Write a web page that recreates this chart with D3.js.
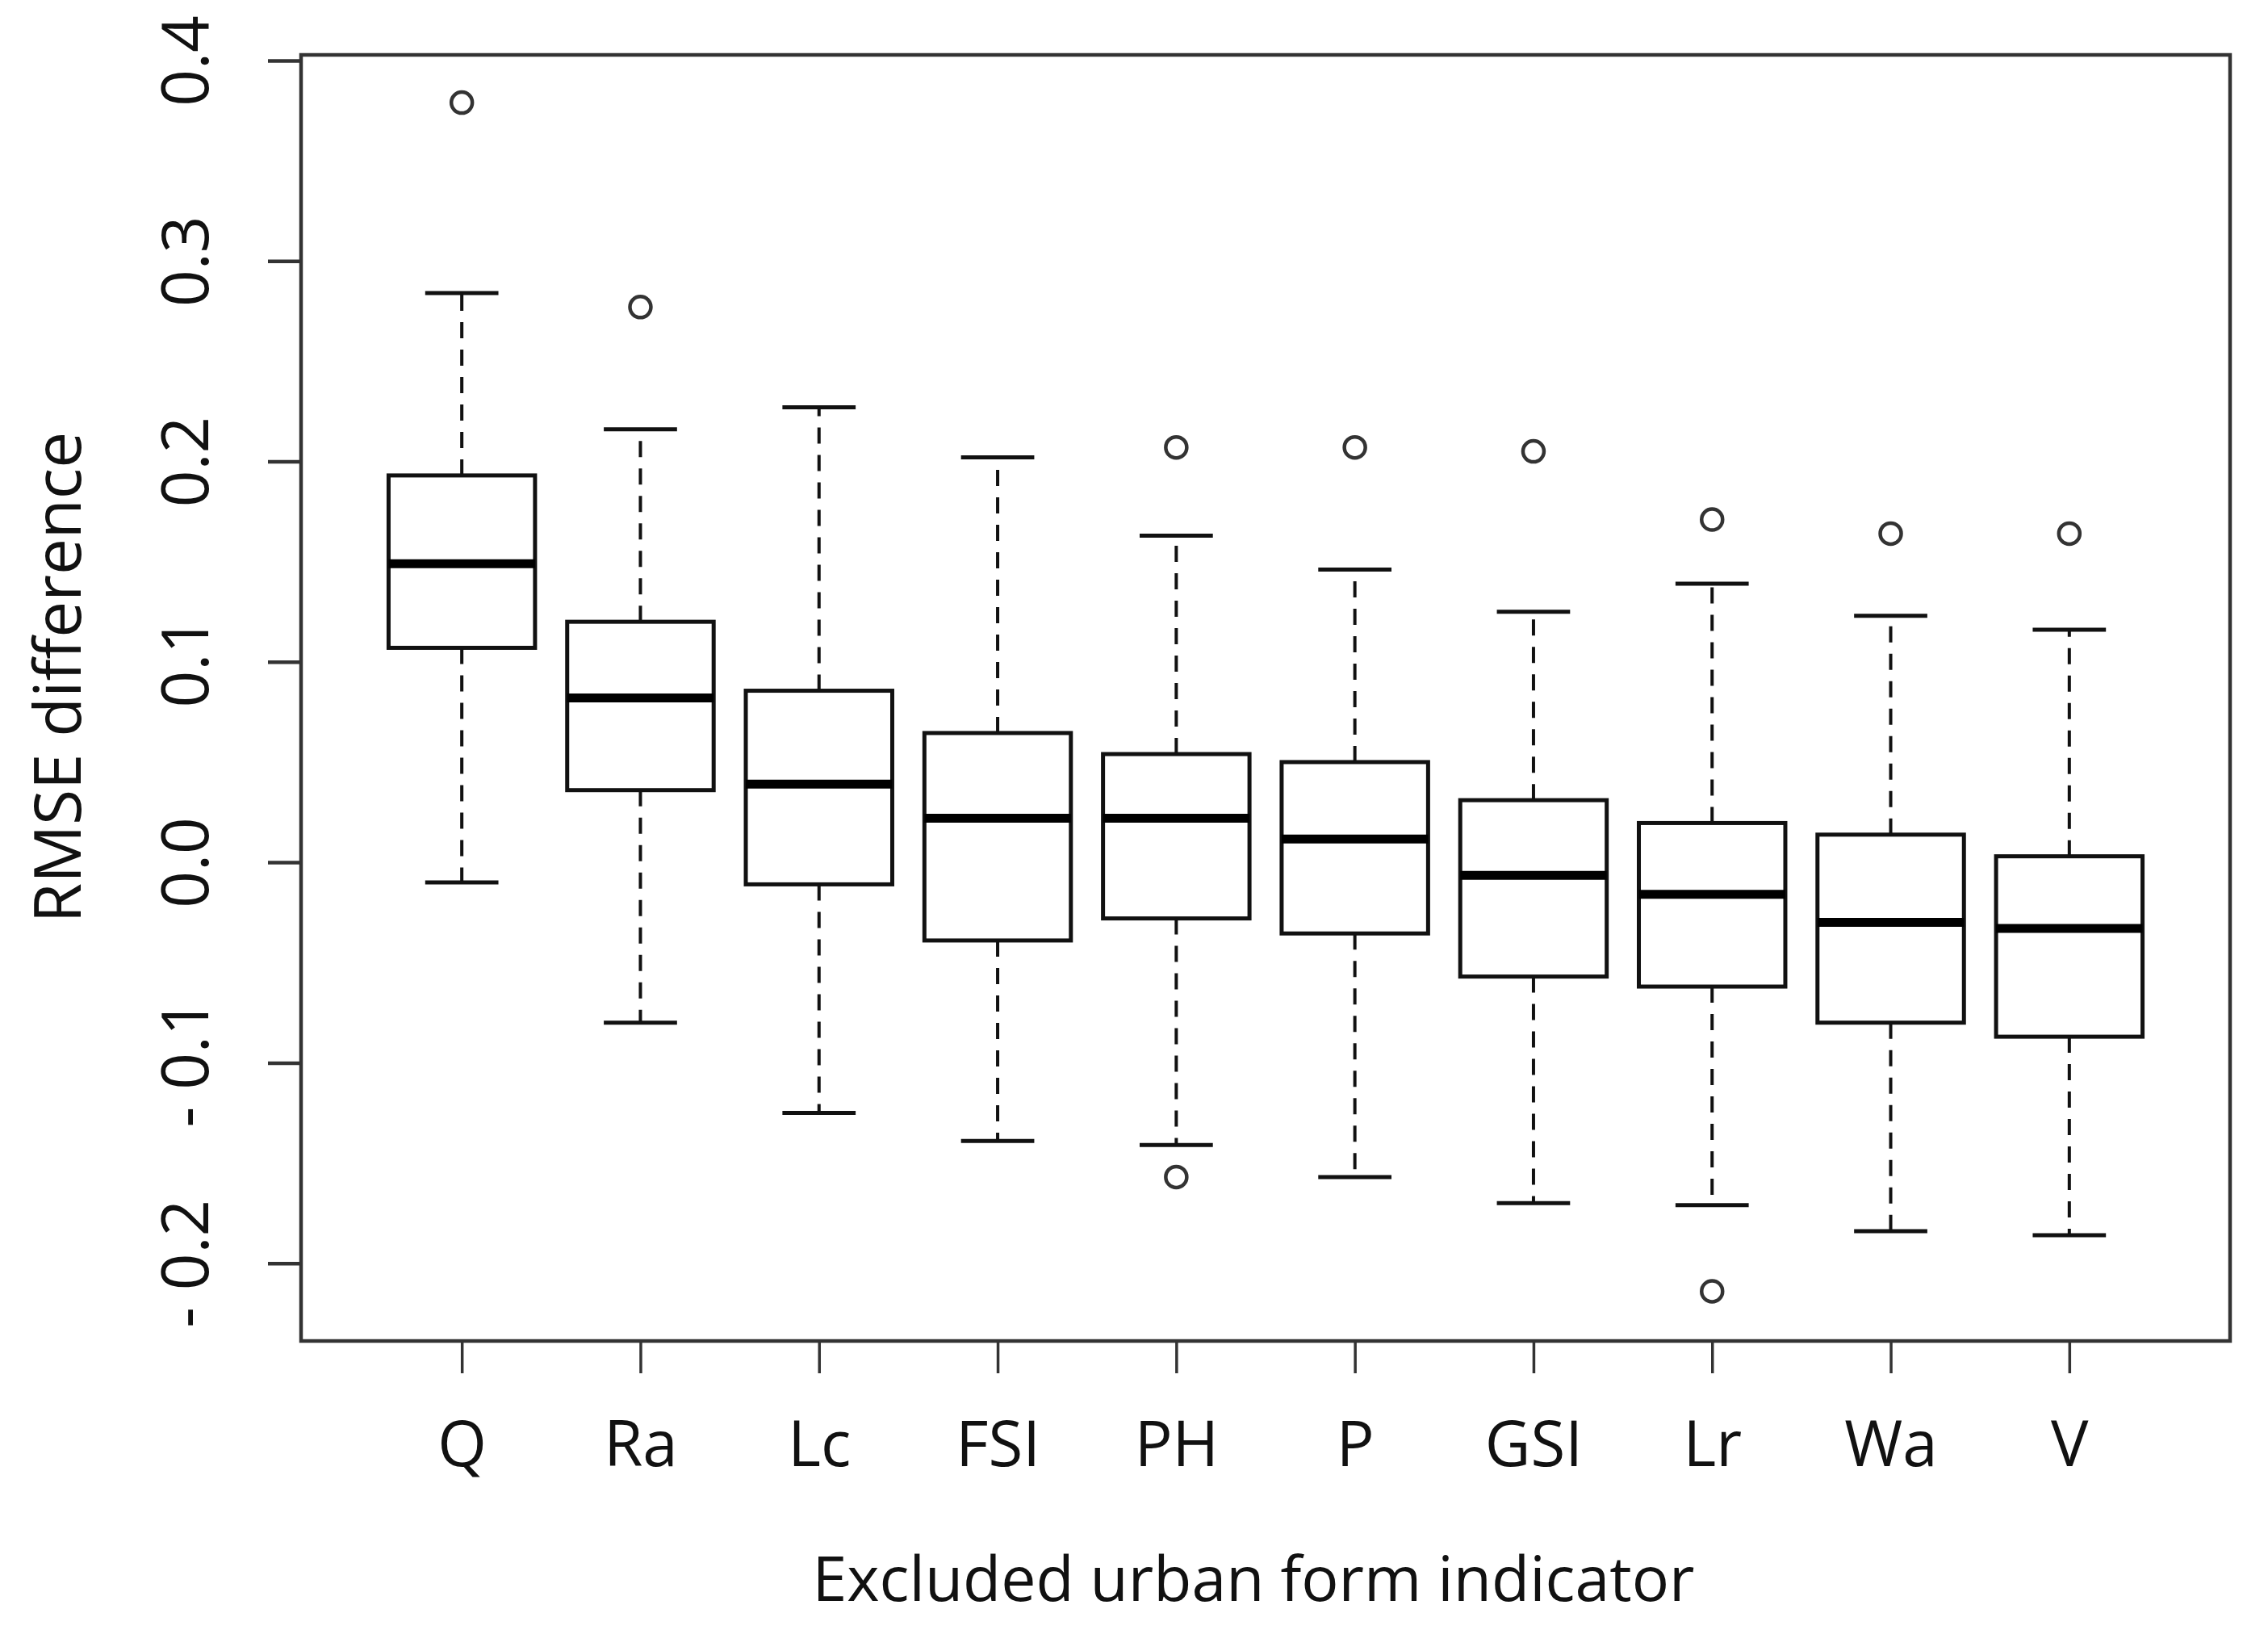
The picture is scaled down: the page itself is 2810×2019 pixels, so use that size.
<!DOCTYPE html>
<html>
<head>
<meta charset="utf-8">
<script src="https://cdn.jsdelivr.net/npm/d3@7"></script>
<style>
  html, body { margin: 0; padding: 0; background: #fff; }
  text { font-family: "Open Sans", "Noto Sans", sans-serif; fill: #111; }
</style>
</head>
<body>
<div id="box-plot"></div>
<script>
// indicators, in the plotted order
const categories = ["Q", "Ra", "Lc", "FSI", "PH", "P", "GSI", "Lr", "Wa", "V"];

// five-number summaries
const lowerWhisker = [-0.010, -0.080, -0.125, -0.139, -0.141, -0.157, -0.170, -0.171, -0.184, -0.186];
const q1 =           [ 0.107,  0.036, -0.011, -0.039, -0.028, -0.0355, -0.057, -0.062, -0.080, -0.087];
const median =       [ 0.149,  0.082,  0.039,  0.022,  0.022,  0.0116, -0.0065, -0.016, -0.030, -0.033];
const q3 =           [ 0.193,  0.120,  0.0856, 0.0645, 0.054,  0.050,  0.031,  0.0196, 0.0138, 0.003];
const upperWhisker = [ 0.284,  0.216,  0.227,  0.202,  0.163,  0.146,  0.125,  0.139,  0.123,  0.116];

// outliers per indicator
const outliers = [
  [0.379], [0.277], [], [], [0.207, -0.157], [0.207], [0.205], [0.171, -0.214], [0.164], [0.164]
];

const yTicks = [-0.2, -0.1, 0.0, 0.1, 0.2, 0.3, 0.4];

const setUpChart = () => {
  const width = 2810;
  const height = 2019;
  const margin = { top: 68, right: 47, bottom: 358, left: 373 };
  const innerWidth = width - margin.left - margin.right;
  const innerHeight = height - margin.top - margin.bottom;

  const svg = d3.select("#box-plot").append("svg")
    .attr("width", width)
    .attr("height", height);

  const g = svg.append("g")
    .attr("transform", `translate(${margin.left},${margin.top})`);

  // R style: positions 1..n, limits padded by 4%
  const x = d3.scaleLinear().domain([0.1, categories.length + 0.9]).range([0, innerWidth]);
  const y = d3.scaleLinear().domain([-0.2388, 0.4028]).range([innerHeight, 0]);

  const data = categories.map((c, i) => ({
    name: c,
    pos: i + 1,
    lo: lowerWhisker[i],
    q1: q1[i],
    med: median[i],
    q3: q3[i],
    hi: upperWhisker[i],
    out: outliers[i]
  }));

  const boxW = x(1.41) - x(0.59);
  const capW = boxW / 2;

  const boxes = g.selectAll(".box").data(data).enter().append("g").attr("class", "box");

  // whiskers (dashed)
  boxes.append("line")
    .attr("x1", (d) => x(d.pos)).attr("x2", (d) => x(d.pos))
    .attr("y1", (d) => y(d.q3)).attr("y2", (d) => y(d.hi))
    .attr("stroke", "#111").attr("stroke-width", 4).attr("stroke-dasharray", "20,14");
  boxes.append("line")
    .attr("x1", (d) => x(d.pos)).attr("x2", (d) => x(d.pos))
    .attr("y1", (d) => y(d.q1)).attr("y2", (d) => y(d.lo))
    .attr("stroke", "#111").attr("stroke-width", 4).attr("stroke-dasharray", "20,14");

  // staples
  boxes.append("line")
    .attr("x1", (d) => x(d.pos) - capW / 2).attr("x2", (d) => x(d.pos) + capW / 2)
    .attr("y1", (d) => y(d.hi)).attr("y2", (d) => y(d.hi))
    .attr("stroke", "#111").attr("stroke-width", 5);
  boxes.append("line")
    .attr("x1", (d) => x(d.pos) - capW / 2).attr("x2", (d) => x(d.pos) + capW / 2)
    .attr("y1", (d) => y(d.lo)).attr("y2", (d) => y(d.lo))
    .attr("stroke", "#111").attr("stroke-width", 5);

  // boxes
  boxes.append("rect")
    .attr("x", (d) => x(d.pos) - boxW / 2)
    .attr("y", (d) => y(d.q3))
    .attr("width", boxW)
    .attr("height", (d) => y(d.q1) - y(d.q3))
    .attr("fill", "#fff").attr("stroke", "#111").attr("stroke-width", 5);

  // medians
  boxes.append("line")
    .attr("x1", (d) => x(d.pos) - boxW / 2).attr("x2", (d) => x(d.pos) + boxW / 2)
    .attr("y1", (d) => y(d.med)).attr("y2", (d) => y(d.med))
    .attr("stroke", "#000").attr("stroke-width", 11);

  // outliers
  boxes.selectAll("circle")
    .data((d) => d.out.map((v) => ({ pos: d.pos, v })))
    .enter().append("circle")
    .attr("cx", (d) => x(d.pos)).attr("cy", (d) => y(d.v))
    .attr("r", 13)
    .attr("fill", "none").attr("stroke", "#333").attr("stroke-width", 4.5);

  // frame
  g.append("rect")
    .attr("width", innerWidth).attr("height", innerHeight)
    .attr("fill", "none").attr("stroke", "#333").attr("stroke-width", 4.5);

  // y axis
  const yAxis = d3.axisLeft(y)
    .tickValues(yTicks)
    .tickSize(41)
    .tickPadding(14)
    .tickFormat((d) => (d < 0 ? "- " + d3.format(".1f")(-d) : d3.format(".1f")(d)));
  const ya = g.append("g").call(yAxis);
  ya.select(".domain").remove();
  ya.selectAll(".tick line").attr("stroke", "#333").attr("stroke-width", 4.5);
  ya.selectAll(".tick text")
    .attr("font-size", 80)
    .attr("text-anchor", "middle")
    .attr("transform", "rotate(-90)")
    .attr("x", 0).attr("y", -(41 + 74))
    .attr("dy", 0);

  // x axis
  const xAxis = d3.axisBottom(x)
    .tickValues(data.map((d) => d.pos))
    .tickSize(40)
    .tickPadding(60)
    .tickFormat((d) => categories[d - 1]);
  const xa = g.append("g").attr("transform", `translate(0,${innerHeight})`).call(xAxis);
  xa.select(".domain").remove();
  xa.selectAll(".tick line").attr("stroke", "#333").attr("stroke-width", 3.5);
  xa.selectAll(".tick text").attr("font-size", 78).attr("dy", "0.71em");

  // axis titles
  svg.append("text")
    .attr("x", margin.left + innerWidth / 2 - 15)
    .attr("y", 1983)
    .attr("text-anchor", "middle")
    .attr("font-size", 77)
    .text("Excluded urban form indicator");

  svg.append("text")
    .attr("transform", "translate(100,839) rotate(-90)")
    .attr("text-anchor", "middle")
    .attr("font-size", 80)
    .text("RMSE difference");
};

setUpChart();
</script>
</body>
</html>
